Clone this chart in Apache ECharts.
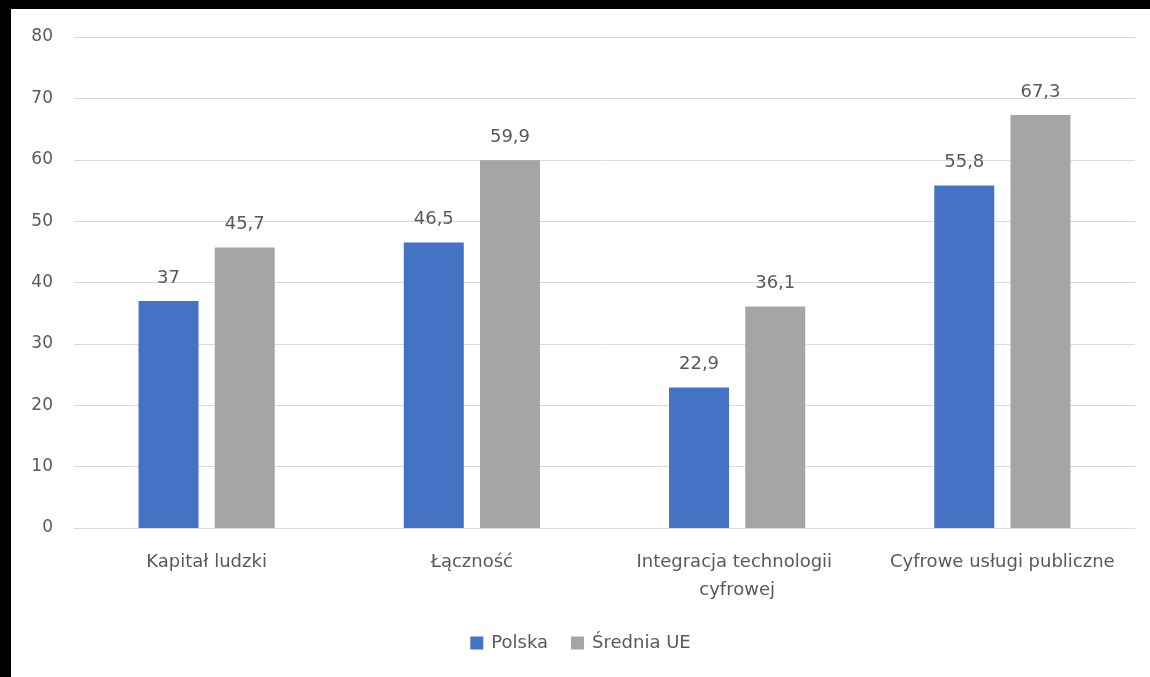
<!DOCTYPE html>
<html>
<head>
<meta charset="utf-8"/>
<title>DESI</title>
<style>
  html, body { margin: 0; padding: 0; background: #000; }
  #main { position: absolute; left: 11px; top: 9px; width: 1139px; height: 668px; background: #fff; }
</style>
</head>
<body>
<script type="text/javascript" src="https://cdn.jsdelivr.net/npm/echarts@6.0.0/dist/echarts.min.js"></script>
<div id="main"></div>
<script type="text/javascript">
    var categories = ['Kapitał ludzki', 'Łączność', 'Integracja technologii cyfrowej', 'Cyfrowe usługi publiczne'];
    var polska = [37, 46.5, 22.9, 55.8];
    var sredniaUE = [45.7, 59.9, 36.1, 67.3];
    var yTicks = [0, 10, 20, 30, 40, 50, 60, 70, 80];

    var textColor = '#595959';
    var font = '"DejaVu Sans", "Noto Sans", sans-serif';

    var myChart = echarts.init(document.getElementById('main'));

    function fmt(p) {
        return String(p.value).replace('.', ',');
    }

    var option = {
        animation: false,
        textStyle: { fontFamily: font, color: textColor },
        grid: { left: 63, right: 15, top: 28, bottom: 149 },
        legend: {
            bottom: 20,
            left: 'center',
            itemWidth: 13,
            itemHeight: 13,
            itemGap: 23,
            icon: 'rect',
            textStyle: { fontSize: 18, color: textColor, fontFamily: font, padding: [0, 0, 0, 3] },
            data: ['Polska', 'Średnia UE']
        },
        xAxis: {
            type: 'category',
            data: categories,
            axisLine: { lineStyle: { color: '#d9d9d9' } },
            axisTick: { show: false },
            axisLabel: {
                interval: 0,
                fontSize: 18,
                color: textColor,
                margin: 20,
                width: 250,
                overflow: 'break',
                lineHeight: 28
            }
        },
        yAxis: {
            type: 'value',
            min: yTicks[0],
            max: yTicks[yTicks.length - 1],
            interval: 10,
            axisLine: { show: false },
            axisTick: { show: false },
            splitLine: { lineStyle: { color: '#d9d9d9' } },
            axisLabel: { fontSize: 17, color: textColor, margin: 21 }
        },
        series: [
            {
                name: 'Polska',
                type: 'bar',
                data: polska,
                barWidth: 60,
                barGap: '27%',
                itemStyle: { color: '#4472C4' },
                label: { show: true, position: 'top', distance: 14, fontSize: 18, color: textColor, formatter: fmt }
            },
            {
                name: 'Średnia UE',
                type: 'bar',
                data: sredniaUE,
                barWidth: 60,
                itemStyle: { color: '#A5A5A5' },
                label: { show: true, position: 'top', distance: 14, fontSize: 18, color: textColor, formatter: fmt }
            }
        ]
    };

    myChart.setOption(option);
</script>
</body>
</html>
